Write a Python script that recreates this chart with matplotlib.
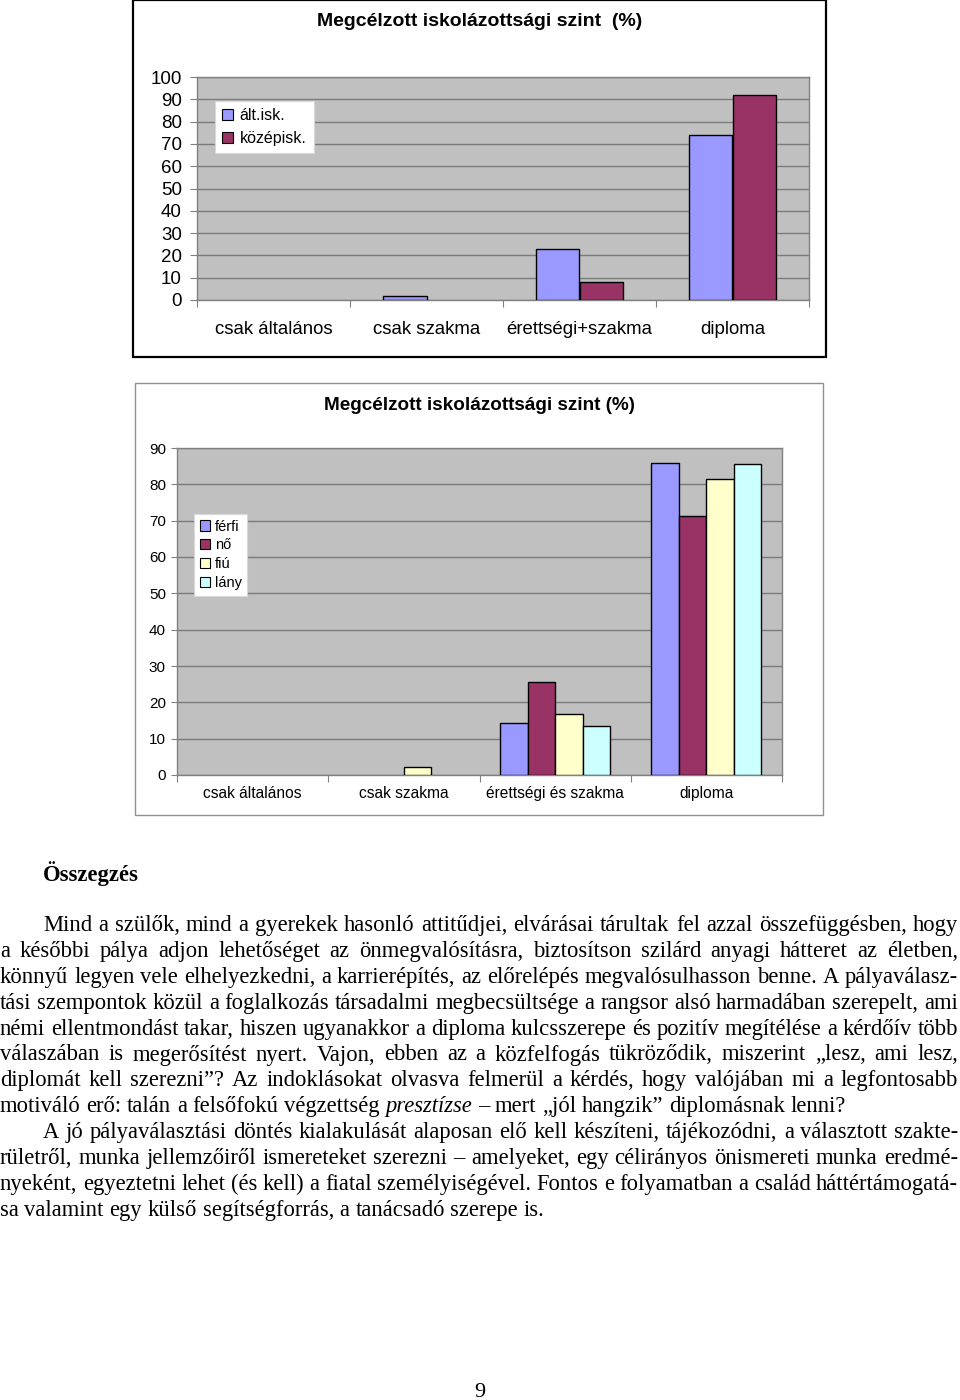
import matplotlib
matplotlib.use("Agg")
import matplotlib.pyplot as plt
from matplotlib.patches import Rectangle, Patch
import numpy as np

# --- data -------------------------------------------------------------
cat1 = ["csak általános", "csak szakma", "érettségi+szakma", "diploma"]
alt_isk = [0, 2, 23, 74]
kozepisk = [0, 0, 8, 92]
names1 = ["ált.isk.", "középisk."]

cat2 = ["csak általános", "csak szakma", "érettségi és szakma", "diploma"]
ferfi = [0, 0, 14.4, 85.8]
no = [0, 0, 25.7, 71.4]
fiu = [0, 2.2, 16.9, 81.4]
lany = [0, 0, 13.4, 85.5]
names2 = ["férfi", "nő", "fiú", "lány"]

title1 = "Megcélzott iskolázottsági szint  (%)"
title2 = "Megcélzott iskolázottsági szint (%)"
heading = "Összegzés"
page_no = "9"

# lines of the text (as broken in the page); second item: justify, third: indent
lines = [
    ("Mind a szülők, mind a gyerekek hasonló attitűdjei, elvárásai tárultak fel azzal összefüggésben, hogy", True, True),
    ("a későbbi pálya adjon lehetőséget az önmegvalósításra, biztosítson szilárd anyagi hátteret az életben,", True, False),
    ("könnyű legyen vele elhelyezkedni, a karrierépítés, az előrelépés megvalósulhasson benne. A pályaválasz-", True, False),
    ("tási szempontok közül a foglalkozás társadalmi megbecsültsége a rangsor alsó harmadában szerepelt, ami", True, False),
    ("némi ellentmondást takar, hiszen ugyanakkor a diploma kulcsszerepe és pozitív megítélése a kérdőív több", True, False),
    ("válaszában is megerősítést nyert. Vajon, ebben az a közfelfogás tükröződik, miszerint „lesz, ami lesz,", True, False),
    ("diplomát kell szerezni”? Az indoklásokat olvasva felmerül a kérdés, hogy valójában mi a legfontosabb", True, False),
    ("motiváló erő: talán a felsőfokú végzettség *presztízse* – mert „jól hangzik” diplomásnak lenni?", False, False),
    ("A jó pályaválasztási döntés kialakulását alaposan elő kell készíteni, tájékozódni, a választott szakte-", True, True),
    ("rületről, munka jellemzőiről ismereteket szerezni – amelyeket, egy célirányos önismereti munka eredmé-", True, False),
    ("nyeként, egyeztetni lehet (és kell) a fiatal személyiségével. Fontos e folyamatban a család háttértámogatá-", True, False),
    ("sa valamint egy külső segítségforrás, a tanácsadó szerepe is.", False, False),
]

W, H = 960, 1400
C_BLUE = "#9999FF"
C_PLUM = "#993366"
C_YELL = "#FFFFCC"
C_CYAN = "#CCFFFF"
C_GREY = "#C0C0C0"

plt.rcParams["font.family"] = ["Liberation Sans", "DejaVu Sans"]

fig = plt.figure(figsize=(W / 100, H / 100), dpi=100)
fig.patch.set_facecolor("white")


def box(x0, y0, x1, y1):
    return [x0 / W, 1 - y1 / H, (x1 - x0) / W, (y1 - y0) / H]


def fx(x):
    return x / W


def fy(y):
    return 1 - y / H


def style_axes(ax, ymax, ystep, ylab_size, cats, xlab_size, xpad, ytick_len, ypad):
    ax.set_facecolor(C_GREY)
    ax.set_xlim(-0.5, 3.5)
    ax.set_ylim(0, ymax)
    ax.set_yticks(np.arange(0, ymax + 1, ystep))
    ax.tick_params(axis="y", labelsize=ylab_size, length=ytick_len, color="#808080", pad=ypad)
    ax.set_xticks(np.arange(-0.5, 4, 1))
    ax.set_xticklabels([])
    ax.tick_params(axis="x", which="major", length=5, color="#808080")
    ax.set_xticks(np.arange(4), minor=True)
    ax.set_xticklabels(cats, minor=True, fontsize=xlab_size)
    ax.tick_params(axis="x", which="minor", length=0, pad=xpad)
    ax.yaxis.grid(True, color="#7a7a7a", linewidth=1)
    ax.set_axisbelow(True)
    for s in ax.spines.values():
        s.set_color("#808080")
        s.set_linewidth(1)


def bars(ax, series, colors):
    n = len(series)
    w = 1 / (n + 1.5)
    x = np.arange(4)
    for i, (vals, col) in enumerate(zip(series, colors)):
        lw = [1.0 if v else 0 for v in vals]
        ax.bar(x + (i - (n - 1) / 2) * w, vals, w, color=col, edgecolor="black",
               linewidth=lw, zorder=3)


# --- chart 1 -------------------------------------------------------------
fig.add_artist(Rectangle((fx(133), fy(357)), (826 - 133) / W, 357 / H,
                         transform=fig.transFigure, fill=False, edgecolor="black", linewidth=1.6))
fig.text(fx(480), fy(22), title1, ha="center", va="center", fontsize=14, fontweight="bold")
ax1 = fig.add_axes(box(197, 77, 809, 300))
bars(ax1, [alt_isk, kozepisk], [C_BLUE, C_PLUM])
style_axes(ax1, 100, 10, 13.5, cat1, 13.4, 15, 5, 6)
h1 = [Patch(facecolor=c, edgecolor="black", linewidth=0.8) for c in [C_BLUE, C_PLUM]]
lg1 = fig.legend(h1, names1, loc="upper left", bbox_to_anchor=(fx(215), fy(101)),
                 bbox_transform=fig.transFigure, borderaxespad=0, fontsize=11.5,
                 handlelength=0.7, handleheight=0.7, handletextpad=0.4, labelspacing=0.5,
                 borderpad=0.45, fancybox=False, framealpha=1, edgecolor="#d8d8d8")
lg1.get_frame().set_linewidth(0.8)

# --- chart 2 -------------------------------------------------------------
fig.add_artist(Rectangle((fx(135), fy(815)), (823 - 135) / W, (815 - 383) / H,
                         transform=fig.transFigure, fill=False, edgecolor="#909090", linewidth=1))
fig.text(fx(480), fy(405), title2, ha="center", va="center", fontsize=13.6, fontweight="bold")
ax2 = fig.add_axes(box(177, 448, 782, 775))
bars(ax2, [ferfi, no, fiu, lany], [C_BLUE, C_PLUM, C_YELL, C_CYAN])
style_axes(ax2, 90, 10, 11, cat2, 11.2, 8, 4, 4)
h2 = [Patch(facecolor=c, edgecolor="black", linewidth=0.8) for c in [C_BLUE, C_PLUM, C_YELL, C_CYAN]]
lg2 = fig.legend(h2, names2, loc="upper left", bbox_to_anchor=(fx(194), fy(514)),
                 bbox_transform=fig.transFigure, borderaxespad=0, fontsize=10.5,
                 handlelength=0.7, handleheight=0.7, handletextpad=0.35, labelspacing=0.33,
                 borderpad=0.38, fancybox=False, framealpha=1, edgecolor="#d8d8d8")
lg2.get_frame().set_linewidth(0.8)

# --- text ----------------------------------------------------------------
SERIF = ["Liberation Serif", "DejaVu Serif"]
BODY = 16.3
fig.text(fx(43), fy(881), heading, fontsize=16.3, fontweight="bold", family=SERIF, va="baseline")
fig.text(fx(480), fy(1397), page_no, fontsize=16, family=SERIF, va="baseline", ha="center")

renderer = fig.canvas.get_renderer()
tmp = fig.text(0, 0, "a a", fontsize=BODY, family=SERIF)
w_aa = tmp.get_window_extent(renderer).width
tmp.set_text("aa")
space_w = w_aa - tmp.get_window_extent(renderer).width
tmp.remove()

LEFT, RIGHT, INDENT = 0, 958, 43
base0, step = 931, 25.9
for i, (line, justify, indent) in enumerate(lines):
    y = fy(base0 + i * step)
    words = line.split(" ")
    objs = []
    for wd in words:
        st = "normal"
        if wd.startswith("*") and wd.endswith("*"):
            wd = wd[1:-1]
            st = "italic"
        objs.append(fig.text(0, y, wd, fontsize=BODY, family=SERIF, style=st, va="baseline"))
    widths = [o.get_window_extent(renderer).width for o in objs]
    x0 = LEFT + (INDENT if indent else 0)
    if justify and len(objs) > 1:
        gap = (RIGHT - x0 - sum(widths)) / (len(objs) - 1)
    else:
        gap = space_w
    x = x0
    for o, wv in zip(objs, widths):
        o.set_x(fx(x))
        x += wv + gap

fig.savefig("out.png", dpi=100, facecolor="white")
